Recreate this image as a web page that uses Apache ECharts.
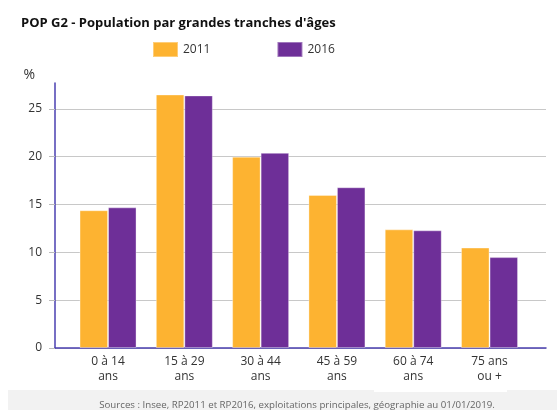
<!DOCTYPE html>
<html>
<head>
<meta charset="utf-8">
<script src="https://cdn.jsdelivr.net/npm/echarts@6/dist/echarts.min.js"></script>
<style>
  html, body { margin: 0; padding: 0; background: #fff; }
  #chart { width: 557px; height: 410px; }
</style>
</head>
<body>
<div id="chart"></div>
<script>
const categories = ["0 à 14\nans", "15 à 29\nans", "30 à 44\nans", "45 à 59\nans", "60 à 74\nans", "75 ans\nou +"];
const values2011 = [14.4, 26.5, 20.0, 16.0, 12.4, 10.5];
const values2016 = [14.7, 26.4, 20.4, 16.8, 12.3, 9.5];
const seriesNames = ["2011", "2016"];
const categoryPositions = [0, 1, 2, 3, 4, 5];

const chart = echarts.init(document.getElementById("chart"));

const barStyle = (color) => ({
  color: color,
  borderColor: "rgba(255, 255, 255, 0.35)",
  borderWidth: 1,
});

chart.setOption({
  animation: false,
  textStyle: { fontFamily: "Open Sans" },
  title: {
    text: "POP G2 - Population par grandes tranches d'âges",
    left: 21,
    top: 17,
    padding: 0,
    textStyle: { fontSize: 13, fontWeight: "bold", color: "#111" },
  },
  legend: {
    top: 41,
    left: 152,
    padding: 0,
    itemWidth: 25,
    itemHeight: 15,
    itemGap: 66,
    icon: "rect",
    textStyle: { fontSize: 12, color: "#333" },
    data: seriesNames,
  },
  grid: {
    left: 55,
    right: 11,
    top: 83,
    bottom: 62,
    outerBoundsMode: "none",
  },
  xAxis: {
    type: "value",
    min: -0.695,
    max: 5.74,
    axisLine: { show: true, lineStyle: { color: "#4a3fb0", width: 1.5 } },
    axisTick: { show: false },
    splitLine: { show: false },
    axisLabel: {
      customValues: categoryPositions,
      formatter: (value) => categories[Math.round(value)],
      color: "#333",
      fontSize: 12,
      lineHeight: 15,
      margin: 6,
    },
  },
  yAxis: {
    type: "value",
    min: 0,
    max: 27.7,
    interval: 5,
    name: "%",
    nameLocation: "end",
    nameGap: 1,
    nameTextStyle: { fontSize: 14, color: "#333", align: "right", padding: [0, 20, 0, 0] },
    axisLine: { show: true, onZero: false, lineStyle: { color: "#4a3fb0", width: 1.5 } },
    axisTick: { show: true, length: 6, lineStyle: { color: "#bbb" } },
    axisLabel: { color: "#333", fontSize: 12, margin: 13, showMaxLabel: false },
    splitLine: { show: true, showMaxLine: false, lineStyle: { color: "#c8c8c8", width: 1.2 } },
  },
  graphic: [
    { type: "rect", shape: { x: 8, y: 390, width: 549, height: 20 }, style: { fill: "#f2f2f2" }, z: -1 },
    { type: "rect", shape: { x: 374, y: 390, width: 133, height: 2 }, style: { fill: "#fff" }, z: -1 },
    {
      type: "text",
      x: 297,
      y: 405,
      style: {
        text: "Sources : Insee, RP2011 et RP2016, exploitations principales, géographie au 01/01/2019.",
        fontFamily: "Open Sans",
        fontSize: 9.7,
        fill: "#666",
        align: "center",
        verticalAlign: "middle",
      },
    },
  ],
  series: [
    {
      name: seriesNames[0],
      type: "bar",
      barWidth: 28.5,
      barGap: "0%",
      itemStyle: barStyle("#fdb331"),
      data: values2011.map((v, i) => [categoryPositions[i], v]),
    },
    {
      name: seriesNames[1],
      type: "bar",
      barWidth: 28.5,
      barGap: "0%",
      itemStyle: barStyle("#6e2f98"),
      data: values2016.map((v, i) => [categoryPositions[i], v]),
    },
  ],
});
</script>
</body>
</html>
